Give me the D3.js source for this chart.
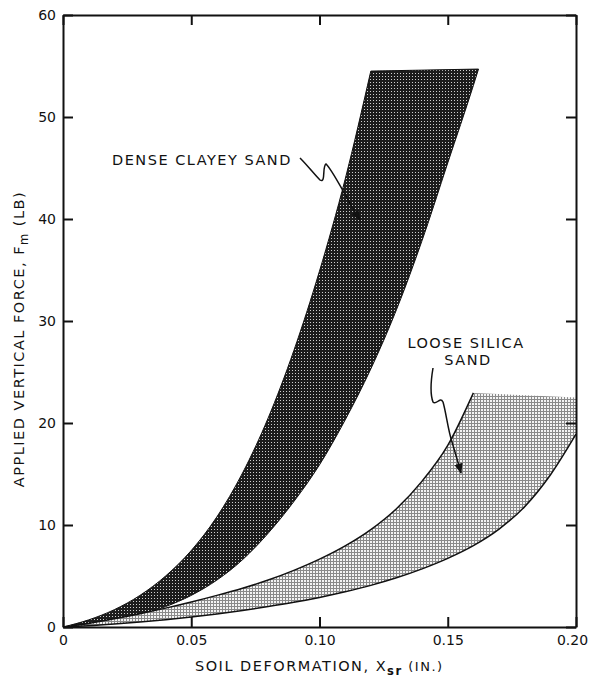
<!DOCTYPE html>
<html lang="en">
<head>
<meta charset="UTF-8">
<title>Applied Vertical Force vs Soil Deformation</title>
<script src="https://d3js.org/d3.v7.min.js"></script>
<style>
    body { margin: 0; background: #fff; font-family: "DejaVu Sans", Arial, sans-serif; }
    .axis text { font-size: 14px; fill: #111; font-family: "DejaVu Sans", Arial, sans-serif; }
    .axis path, .axis line { stroke: #111; stroke-width: 2; }
    .lbl { font-size: 14.5px; fill: #111; letter-spacing: 1.5px; }
</style>
</head>
<body>
<svg width="592" height="679"></svg>
<script>
// tick values and labels
const xTicks = [0, 0.05, 0.10, 0.15, 0.20];
const xTickLabels = ["0", "0.05", "0.10", "0.15", "0.20"];
const yTicks = [0, 10, 20, 30, 40, 50, 60];

// dense clayey sand band: [deformation in., force lb]
const denseUpper = [[0, 0], [0.01, 0.7], [0.02, 1.7], [0.03, 3.1], [0.04, 5.0], [0.05, 7.5],
    [0.06, 10.8], [0.07, 15.1], [0.08, 20.5], [0.09, 27.1], [0.10, 34.9], [0.11, 43.9], [0.12, 54.5]];
const denseLower = [[0, 0], [0.01, 0.2], [0.02, 0.6], [0.03, 1.2], [0.04, 2.0], [0.05, 3.1],
    [0.06, 4.6], [0.07, 6.6], [0.08, 9.2], [0.09, 12.3], [0.10, 15.9], [0.11, 20.3], [0.12, 25.3],
    [0.13, 31.1], [0.14, 37.9], [0.15, 45.5], [0.16, 53.1], [0.162, 54.7]];

// loose silica sand band
const looseUpper = [[0, 0], [0.01, 0.35], [0.02, 0.8], [0.03, 1.3], [0.04, 1.85], [0.05, 2.45],
    [0.06, 3.1], [0.07, 3.8], [0.08, 4.6], [0.09, 5.55], [0.10, 6.65], [0.11, 7.95], [0.12, 9.55],
    [0.13, 11.6], [0.14, 14.3], [0.15, 17.8], [0.16, 22.95]];
const looseLower = [[0, 0], [0.01, 0.12], [0.02, 0.29], [0.03, 0.49], [0.04, 0.72], [0.05, 0.98],
    [0.06, 1.28], [0.07, 1.62], [0.08, 2.0], [0.09, 2.42], [0.10, 2.9], [0.11, 3.45], [0.12, 4.08],
    [0.13, 4.82], [0.14, 5.7], [0.15, 6.73], [0.16, 7.98], [0.17, 9.6], [0.18, 11.8],
    [0.19, 14.9], [0.20, 18.9]];
const looseTop = [[0.16, 22.95], [0.20, 22.5]];

const svg = d3.select("svg");
const x = d3.scaleLinear().domain([0, 0.2]).range([63, 576]);
const y = d3.scaleLinear().domain([0, 60]).range([627, 15]);

// fill patterns
const defs = svg.append("defs");
const pd = defs.append("pattern").attr("id", "dense").attr("patternUnits", "userSpaceOnUse")
    .attr("width", 3).attr("height", 3);
pd.append("rect").attr("width", 3).attr("height", 3).attr("fill", "#1c1c1c");
pd.append("rect").attr("x", 1).attr("y", 1).attr("width", 1).attr("height", 1).attr("fill", "#d0d0d0");

const pl = defs.append("pattern").attr("id", "loose").attr("patternUnits", "userSpaceOnUse")
    .attr("width", 3).attr("height", 3);
pl.append("rect").attr("width", 3).attr("height", 3).attr("fill", "#8a8a8a");
pl.append("rect").attr("x", 1).attr("y", 1).attr("width", 2).attr("height", 2).attr("fill", "#f4f4f4");

const line = d3.line().x(d => x(d[0])).y(d => y(d[1])).curve(d3.curveMonotoneX);

function band(upper, lower) {
    const a = line(upper);
    const b = line(lower.slice().reverse()).replace(/^M/, "L");
    return a + b + "Z";
}

// dense band
svg.append("path")
    .attr("d", band(denseUpper, denseLower))
    .attr("fill", "url(#dense)")
    .attr("stroke", "#111").attr("stroke-width", 1);

// loose band (upper curve, flat top, lower curve)
const looseFill = line(looseUpper) + "L" + x(looseTop[1][0]) + "," + y(looseTop[1][1]) +
    line(looseLower.slice().reverse()).replace(/^M/, "L") + "Z";
svg.append("path").attr("d", looseFill).attr("fill", "url(#loose)").attr("stroke", "none");
svg.append("path").attr("d", line(looseUpper)).attr("fill", "none").attr("stroke", "#111").attr("stroke-width", 1.5);
svg.append("path").attr("d", line(looseLower)).attr("fill", "none").attr("stroke", "#111").attr("stroke-width", 1.5);

// axes, ticks pointing inward on all four sides
svg.append("g").attr("class", "axis").attr("transform", `translate(0,${y(0)})`)
    .call(d3.axisBottom(x).tickValues(xTicks).tickFormat((d, i) => xTickLabels[i])
        .tickSizeInner(-10).tickSizeOuter(0).tickPadding(8))
    .selectAll(".tick:last-of-type text").attr("dx", -4);
svg.append("g").attr("class", "axis").attr("transform", `translate(0,${y(60)})`)
    .call(d3.axisTop(x).tickValues(xTicks).tickFormat("").tickSizeInner(-10).tickSizeOuter(0));
svg.append("g").attr("class", "axis").attr("transform", `translate(${x(0)},0)`)
    .call(d3.axisLeft(y).tickValues(yTicks).tickSizeInner(-10).tickSizeOuter(0).tickPadding(7));
svg.append("g").attr("class", "axis").attr("transform", `translate(${x(0.2)},0)`)
    .call(d3.axisRight(y).tickValues(yTicks).tickFormat("").tickSizeInner(-10).tickSizeOuter(0));

// axis titles
const xt = svg.append("text").attr("class", "lbl").attr("x", 195).attr("y", 671);
xt.append("tspan").text("SOIL DEFORMATION, X");
xt.append("tspan").attr("dy", 4).attr("font-size", 11.5).attr("font-weight", "bold").text("sr");
xt.append("tspan").attr("dy", -4).attr("font-size", 13).text(" (IN.)");

const yt = svg.append("text").attr("class", "lbl")
    .attr("transform", "translate(24,339) rotate(-90)").attr("text-anchor", "middle");
yt.append("tspan").text("APPLIED VERTICAL FORCE, F");
yt.append("tspan").attr("dy", 4).attr("font-size", 11.5).text("m");
yt.append("tspan").attr("dy", -4).text(" (LB)");

// annotations
svg.append("text").attr("class", "lbl").attr("x", 112).attr("y", 165).text("DENSE CLAYEY SAND");
svg.append("text").attr("class", "lbl").attr("x", 466).attr("y", 348).attr("text-anchor", "middle").text("LOOSE SILICA");
svg.append("text").attr("class", "lbl").attr("x", 468).attr("y", 365).attr("text-anchor", "middle").text("SAND");

// leader arrows
defs.append("marker").attr("id", "ah").attr("viewBox", "0 0 10 10").attr("refX", 9).attr("refY", 5)
    .attr("markerWidth", 7).attr("markerHeight", 7).attr("orient", "auto")
    .append("path").attr("d", "M0,1 L10,5 L0,9 Z").attr("fill", "#111");

svg.append("path")
    .attr("d", "M300,158 C308,166 314,174 320,180 C326,184 322,166 326,164 C332,170 340,186 346,196 C350,204 355,212 360,220")
    .attr("fill", "none").attr("stroke", "#111").attr("stroke-width", 1.5).attr("marker-end", "url(#ah)");
svg.append("path")
    .attr("d", "M433,368 C431,380 430,394 433,402 C436,406 440,396 443,402 C446,412 448,430 452,442 C455,452 458,462 461,473")
    .attr("fill", "none").attr("stroke", "#111").attr("stroke-width", 1.5).attr("marker-end", "url(#ah)");
</script>
</body>
</html>
